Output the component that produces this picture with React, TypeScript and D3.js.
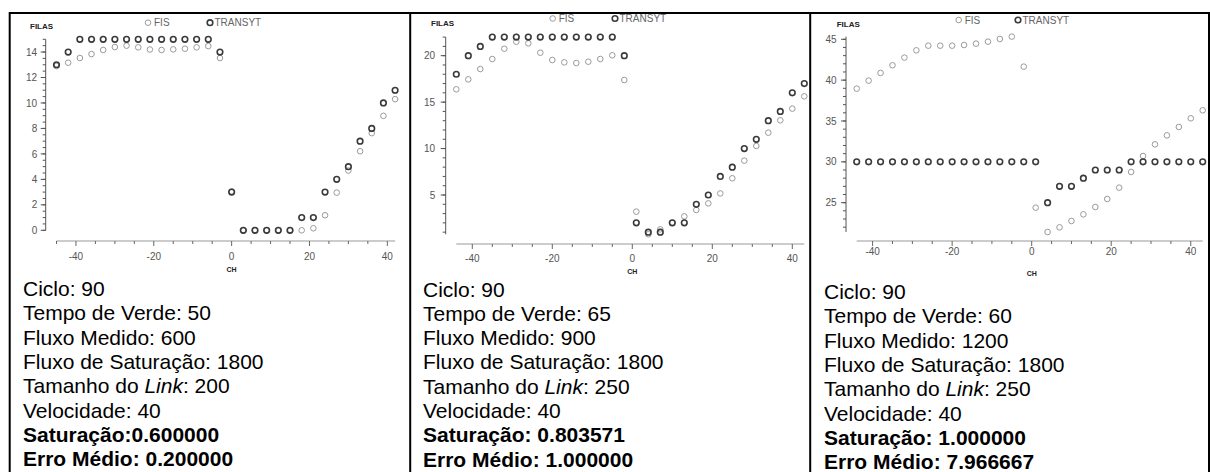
import React from "react";
import * as d3 from "d3";

// CH (s) sampled every 3 s
const ch1 = [-45, -42, -39, -36, -33, -30, -27, -24, -21, -18, -15, -12, -9, -6, -3, 0, 3, 6, 9, 12, 15, 18, 21, 24, 27, 30, 33, 36, 39, 42];
const ch2 = [-44, -41, -38, -35, -32, -29, -26, -23, -20, -17, -14, -11, -8, -5, -2, 1, 4, 7, 10, 13, 16, 19, 22, 25, 28, 31, 34, 37, 40, 43];
const ch3 = [-44, -41, -38, -35, -32, -29, -26, -23, -20, -17, -14, -11, -8, -5, -2, 1, 4, 7, 10, 13, 16, 19, 22, 25, 28, 31, 34, 37, 40, 43];

// Queue lengths (FILAS)
const fis1 = [12.9, 13.16, 13.53, 13.84, 14.16, 14.39, 14.5, 14.37, 14.2, 14.16, 14.21, 14.26, 14.37, 14.47, 13.53, 3.05, 0, 0, 0, 0, 0, 0, 0.16, 1.18, 2.96, 4.69, 6.21, 7.63, 8.99, 10.3];
const transyt1 = [13, 14, 15, 15, 15, 15, 15, 15, 15, 15, 15, 15, 15, 15, 14, 3, 0, 0, 0, 0, 0, 1, 1, 3, 4, 5, 7, 8, 10, 11];

const fis2 = [16.38, 17.45, 18.56, 19.64, 20.75, 21.5, 21.33, 20.32, 19.53, 19.28, 19.21, 19.35, 19.64, 20.04, 17.38, 3.21, 0.77, 1.3, 2.0, 2.7, 3.39, 4.1, 5.17, 6.8, 8.7, 10.28, 11.71, 13.04, 14.3, 15.62];
const transyt2 = [18, 20, 21, 22, 22, 22, 22, 22, 22, 22, 22, 22, 22, 22, 20, 2, 1, 1, 2, 2, 4, 5, 7, 8, 10, 11, 13, 14, 16, 17];

const fis3 = [38.96, 39.94, 40.88, 41.82, 42.76, 43.65, 44.22, 44.22, 44.22, 44.3, 44.47, 44.71, 45.04, 45.33, 41.65, 24.39, 21.41, 21.98, 22.76, 23.57, 24.47, 25.45, 26.84, 28.76, 30.71, 32.14, 33.24, 34.27, 35.33, 36.31];
const transyt3 = [30, 30, 30, 30, 30, 30, 30, 30, 30, 30, 30, 30, 30, 30, 30, 30, 25, 27, 27, 28, 29, 29, 29, 30, 30, 30, 30, 30, 30, 30];

// Axis ticks
const xMajor = [-40, -20, 0, 20, 40];
const yMajor1 = [0, 2, 4, 6, 8, 10, 12, 14];
const yMajor2 = [5, 10, 15, 20];
const yMajor3 = [25, 30, 35, 40, 45];

// Parameter texts under each chart
const texts1 = ["Ciclo: 90", "Tempo de Verde: 50", "Fluxo Medido: 600", "Fluxo de Saturação: 1800", "200", "Velocidade: 40"];
const texts2 = ["Ciclo: 90", "Tempo de Verde: 65", "Fluxo Medido: 900", "Fluxo de Saturação: 1800", "250", "Velocidade: 40"];
const texts3 = ["Ciclo: 90", "Tempo de Verde: 60", "Fluxo Medido: 1200", "Fluxo de Saturação: 1800", "250", "Velocidade: 40"];
const bold1 = ["Saturação:0.600000", "Erro Médio: 0.200000"];
const bold2 = ["Saturação: 0.803571", "Erro Médio: 1.000000"];
const bold3 = ["Saturação: 1.000000", "Erro Médio: 7.966667"];

const FONT = "'Liberation Sans', Arial, sans-serif";

type PanelCfg = {
  ch: number[];
  fis: number[];
  transyt: number[];
  yMajor: number[];
  yMinorStep: number;
  texts: string[];
  bold: string[];
  xRange: [number, number];
  yRange: [number, number];
  yAxisX: number;
  xAxisY: number;
  xLabelOffset: number;
  yLabelGap: number;
  filasX: number;
  filasY: number;
  legendY: number;
  legendFisX: number;
  legendTrX: number;
  chY: number;
  textX: number;
  textY: number;
};

const panels: PanelCfg[] = [
  {
    ch: ch1, fis: fis1, transyt: transyt1, yMajor: yMajor1, yMinorStep: 0.5,
    texts: texts1, bold: bold1,
    xRange: [56.5, 395.1], yRange: [230.3, 39.3], yAxisX: 45.7, xAxisY: 241,
    xLabelOffset: 18.5, yLabelGap: 8.5, filasX: 30, filasY: 28.5,
    legendY: 22.7, legendFisX: 148, legendTrX: 210, chY: 272, textX: 23, textY: 296,
  },
  {
    ch: ch2, fis: fis2, transyt: transyt2, yMajor: yMajor2, yMinorStep: 1,
    texts: texts2, bold: bold2,
    xRange: [456.3, 804.3], yRange: [234.3, 37.1], yAxisX: 445.7, xAxisY: 244,
    xLabelOffset: 18, yLabelGap: 10.5, filasX: 431, filasY: 25.5,
    legendY: 18.5, legendFisX: 552.7, legendTrX: 615, chY: 273.5, textX: 423, textY: 296.5,
  },
  {
    ch: ch3, fis: fis3, transyt: transyt3, yMajor: yMajor3, yMinorStep: 1,
    texts: texts3, bold: bold3,
    xRange: [856.7, 1202.7], yRange: [232, 36.6], yAxisX: 846, xAxisY: 241,
    xLabelOffset: 14, yLabelGap: 9.3, filasX: 836.7, filasY: 27,
    legendY: 20, legendFisX: 958.7, legendTrX: 1018, chY: 275.5, textX: 824, textY: 299,
  },
];

const FIS_STROKE = "#9a9a9a";
const TR_STROKE = "#3a3a3a";
const R = 2.8;

function Panel({ p }: { p: PanelCfg }) {
  const xExt = d3.extent(p.ch) as [number, number];
  const allY = p.fis.concat(p.transyt);
  const yExt = d3.extent(allY) as [number, number];
  const x = d3.scaleLinear().domain(xExt).range(p.xRange);
  const y = d3.scaleLinear().domain(yExt).range(p.yRange);

  const xMinor = d3.range(Math.ceil(xExt[0] / 5) * 5, xExt[1] + 1e-9, 5);
  const yStart = Math.ceil(yExt[0] / p.yMinorStep) * p.yMinorStep;
  const yMinor = d3.range(yStart, yExt[1] + 1e-9, p.yMinorStep);
  const lineStep = 24.3;

  return (
    <g>
      {/* y axis */}
      <line x1={p.yAxisX} x2={p.yAxisX} y1={y(yExt[0])} y2={y(yExt[1])} stroke="#555" strokeWidth={1} />
      {yMinor.map((v) => (
        <line key={"ym" + v} x1={p.yAxisX - 3} x2={p.yAxisX} y1={y(v)} y2={y(v)} stroke="#555" strokeWidth={1} />
      ))}
      {p.yMajor.map((v) => (
        <g key={"yM" + v}>
          <line x1={p.yAxisX - 5} x2={p.yAxisX} y1={y(v)} y2={y(v)} stroke="#555" strokeWidth={1} />
          <text x={p.yAxisX - p.yLabelGap} y={y(v) + 3.6} textAnchor="end" fontSize={10} fill="#555" fontFamily={FONT}>
            {v}
          </text>
        </g>
      ))}

      {/* x axis */}
      <line x1={x(xExt[0])} x2={x(xExt[1])} y1={p.xAxisY} y2={p.xAxisY} stroke="#999" strokeWidth={1} />
      {xMinor.map((v) => (
        <line key={"xm" + v} x1={x(v)} x2={x(v)} y1={p.xAxisY} y2={p.xAxisY + (xMajor.includes(v) ? 5 : 3)} stroke="#666" strokeWidth={1} />
      ))}
      {xMajor.map((v) => (
        <text key={"xl" + v} x={x(v)} y={p.xAxisY + p.xLabelOffset} textAnchor="middle" fontSize={10} fill="#555" fontFamily={FONT}>
          {v}
        </text>
      ))}

      {/* axis titles */}
      <text x={p.filasX} y={p.filasY} fontSize={8} fontWeight="bold" fill="#222" fontFamily={FONT}>FILAS</text>
      <text x={(x(xExt[0]) + x(xExt[1])) / 2 + (x(0) - (x(xExt[0]) + x(xExt[1])) / 2)} y={p.chY} textAnchor="middle" fontSize={7} fontWeight="bold" fill="#222" fontFamily={FONT}>CH</text>

      {/* legend */}
      <circle cx={p.legendFisX} cy={p.legendY} r={R} fill="none" stroke={FIS_STROKE} strokeWidth={1} />
      <text x={p.legendFisX + 6} y={p.legendY + 3.5} fontSize={10} fill="#666" fontFamily={FONT}>FIS</text>
      <circle cx={p.legendTrX} cy={p.legendY} r={R} fill="none" stroke={TR_STROKE} strokeWidth={1.6} />
      <text x={p.legendTrX + 4.5} y={p.legendY + 3.5} fontSize={10} fill="#666" fontFamily={FONT}>TRANSYT</text>

      {/* series */}
      {p.ch.map((c, i) => (
        <circle key={"f" + i} cx={x(c)} cy={y(p.fis[i])} r={R} fill="none" stroke={FIS_STROKE} strokeWidth={1} />
      ))}
      {p.ch.map((c, i) => (
        <circle key={"t" + i} cx={x(c)} cy={y(p.transyt[i])} r={R} fill="none" stroke={TR_STROKE} strokeWidth={1.6} />
      ))}

      {/* parameters */}
      {p.texts.map((t, i) => (
        <text key={"tx" + i} x={p.textX} y={p.textY + i * lineStep} fontSize={21} fill="#000" fontFamily={FONT}>
          {i === 4 ? (
            <>
              {"Tamanho do "}
              <tspan fontStyle="italic">Link</tspan>
              {": " + t}
            </>
          ) : (
            t
          )}
        </text>
      ))}
      {p.bold.map((t, i) => (
        <text key={"b" + i} x={p.textX} y={p.textY + (6 + i) * lineStep} fontSize={21} fontWeight="bold" fill="#000" fontFamily={FONT}>
          {t}
        </text>
      ))}
    </g>
  );
}

export default function App() {
  return (
    <svg
      width={1210}
      height={472}
      style={{ position: "absolute", left: 0, top: 0, background: "#fff" }}
    >
      <rect x={0} y={0} width={1210} height={472} fill="#fff" />
      {/* table frame */}
      <line x1={9.7} x2={1209} y1={13} y2={13} stroke="#000" strokeWidth={2} />
      {[9.7, 410.2, 810.2, 1209].map((v) => (
        <line key={v} x1={v} x2={v} y1={12} y2={472} stroke="#000" strokeWidth={2} />
      ))}
      {panels.map((p, i) => (
        <Panel key={i} p={p} />
      ))}
    </svg>
  );
}
